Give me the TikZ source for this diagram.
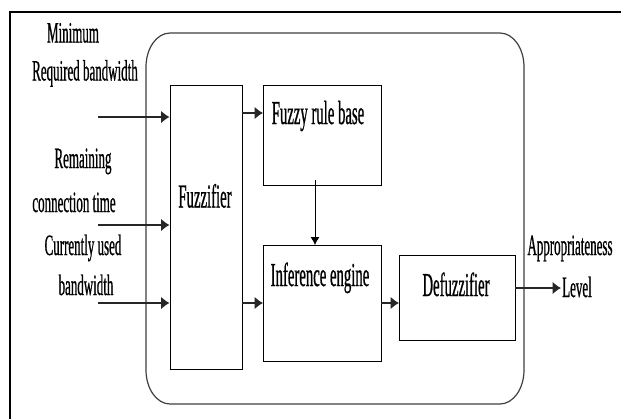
\documentclass[tikz,border=0pt]{standalone}
\usepackage{fontspec}
\setmainfont{Liberation Serif}
\newfontfamily\condfont[FakeStretch=0.44,FakeBold=0.6]{Liberation Serif}
\usetikzlibrary{arrows.meta}
\begin{document}
\begin{tikzpicture}[x=1pt,y=-1pt,
  box/.style={draw=black,line width=1.3pt,inner sep=0pt,anchor=north west},
  lbl/.style={font=\condfont\fontsize{29.5}{31}\selectfont,anchor=base,inner sep=0pt},
  blbl/.style={font=\condfont\fontsize{33.5}{35}\selectfont,anchor=base,inner sep=0pt},
  arr/.style={line width=1.7pt,black!85,-{Latex[length=8.5pt,width=13pt]}},
  thinarr/.style={line width=0.8pt,-{Latex[length=8pt,width=9pt]}}]
\useasboundingbox (0,0) rectangle (621,418);
\clip (0,0) rectangle (621,418);
\fill[white] (0,0) rectangle (621,418);
% outer frame
\draw[line width=2pt] (10,460) -- (10,12) -- (680,12);
% rounded enclosure
\draw[line width=1.2pt,black!75] (170,33) -- (500,33)
  arc[start angle=90,end angle=0,x radius=24,y radius=-34] -- (524,370)
  arc[start angle=0,end angle=-90,x radius=24,y radius=-34] -- (170,404)
  arc[start angle=270,end angle=180,x radius=24,y radius=-34] -- (146,67)
  arc[start angle=180,end angle=90,x radius=24,y radius=-34];
% boxes
\node[box,minimum width=72pt,minimum height=284pt] (fz) at (169.5,85) {};
\node[box,minimum width=118pt,minimum height=100pt] (frb) at (263,85) {};
\node[box,minimum width=118pt,minimum height=116pt] (ie) at (263,245) {};
\node[box,minimum width=116pt,minimum height=85pt] (df) at (399,255) {};
% box texts
\node[blbl] (tfz) at (205,207.5) {Fuzzifier};
\node[blbl] (tfrb) at (318,124) {Fuzzy rule base};
\node[blbl] (tie) at (320,286) {Inference engine};
\node[blbl] (tdf) at (456,296) {Defuzzifier};
% input labels
\node[lbl] (l1a) at (73,42.5) {Minimum};
\node[lbl] (l1b) at (85,80.5) {Required bandwidth};
\node[lbl] (l2a) at (83,168) {Remaining};
\node[lbl] (l2b) at (74,212) {connection time};
\node[lbl] (l3a) at (83,255) {Currently used};
\node[lbl] (l3b) at (86,295) {bandwidth};
\node[lbl] (oa) at (570,255) {Appropriateness};
\node[lbl] (ob) at (577,297) {Level};
% input arrows
\coordinate (in1) at (98,117);
\coordinate (in2) at (98,225);
\coordinate (in3) at (98,303);
\draw[arr] (in1) -- (in1 -| fz.west);
\draw[arr] (in2) -- (in2 -| fz.west);
\draw[arr] (in3) -- (in3 -| fz.west);
% internal arrows
\coordinate (a1) at (241.5,113);
\coordinate (a2) at (241.5,303);
\draw[arr] (a1) -- (a1 -| frb.west);
\draw[arr] (a2) -- (a2 -| ie.west);
\coordinate (d1) at (315,180);
\draw[thinarr] (d1) -- (d1 |- ie.north);
\coordinate (a3) at (381,303);
\draw[arr] (a3) -- (a3 -| df.west);
\coordinate (o1) at (515,288);
\coordinate (o2) at (561,288);
\draw[arr] (o1) -- (o2);
\end{tikzpicture}
\end{document}
